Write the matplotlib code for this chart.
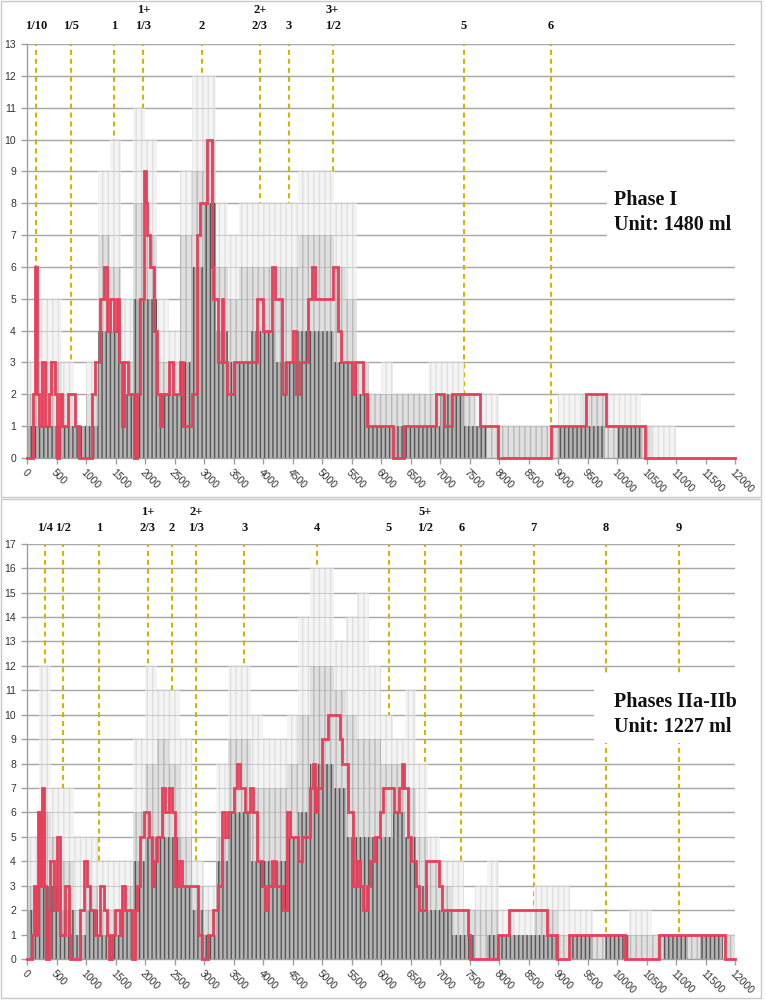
import matplotlib
matplotlib.use('Agg')
import matplotlib.pyplot as plt
import numpy as np
from matplotlib.patches import Rectangle

# ---------------- data ----------------
x_ticks = list(range(0, 12001, 500))
bin_edges = list(range(0, 12001, 200))

# Phase I
top_vline_pos = [148, 740, 1480, 1973, 2960, 3947, 4440, 5180, 7400, 8880]
top_vline_lab = ['1/10', '1/5', '1', '1+\n1/3', '2', '2+\n2/3', '3', '3+\n1/2', '5', '6']
top_light = [3, 5, 5, 3, 1, 3, 9, 10, 5, 11, 10, 5, 4, 9, 12, 12, 8, 7, 8, 8,
             8, 8, 8, 9, 9, 9, 8, 8, 3, 2, 3, 2, 2, 2, 3, 3, 3, 2, 2, 2,
             1, 1, 1, 1, 1, 2, 2, 2, 2, 2, 2, 2, 1, 1, 1, 0, 0, 0, 0, 0]
top_mid = [2, 3, 3, 2, 1, 2, 7, 6, 3, 8, 7, 3, 3, 7, 9, 10, 6, 5, 6, 6,
           6, 6, 6, 7, 7, 7, 6, 5, 3, 2, 2, 2, 2, 2, 2, 2, 2, 2, 1, 1,
           1, 1, 1, 1, 1, 1, 1, 2, 2, 1, 1, 1, 1, 0, 0, 0, 0, 0, 0, 0]
top_dark = [1, 1, 1, 1, 1, 1, 4, 4, 2, 5, 5, 2, 2, 3, 6, 8, 4, 3, 3, 4,
            4, 3, 3, 4, 4, 4, 3, 3, 2, 1, 1, 1, 1, 1, 1, 2, 2, 1, 1, 0,
            0, 0, 0, 0, 0, 1, 1, 1, 1, 0, 1, 1, 0, 0, 0, 0, 0, 0, 0, 0]
top_red_x = [0, 110, 130, 170, 200, 260, 310, 370, 400, 470, 510, 540, 560, 600, 700,
             820, 880, 1100, 1160, 1240, 1300, 1355, 1410, 1467, 1523, 1557, 1608,
             1648, 1704, 1806, 1862, 1918, 1975, 2010, 2040, 2090, 2155, 2200, 2250,
             2290, 2400, 2483, 2595, 2652, 2793, 2878, 2930, 3050, 3130, 3160, 3245,
             3300, 3330, 3385, 3500, 3890, 4006, 4150, 4200, 4316, 4390, 4514, 4555,
             4627, 4770, 4825, 4880, 5190, 5275, 5330, 5500, 5560, 5700, 5756, 6197,
             6383, 6930, 7060, 7211, 7673, 7983, 8873, 9482, 9814, 10479]
top_red_y = [0, 2, 6, 2, 1, 3, 1, 2, 3, 2, 0, 1, 2, 1, 2,
             1, 0, 2, 3, 5, 6, 4, 5, 4, 5, 3, 1,
             3, 2, 0, 2, 5, 9, 8, 7, 6, 4, 2, 1,
             2, 3, 2, 3, 1, 2, 7, 8, 10, 6, 5, 3,
             5, 3, 2, 3, 5, 4, 6, 5, 2, 3, 4, 2,
             3, 5, 6, 5, 6, 4, 3, 2, 3, 2, 1, 0,
             1, 2, 1, 2, 1, 0, 1, 2, 1, 0]

# Phases IIa-IIb
bot_vline_pos = [307, 613, 1227, 2045, 2454, 2863, 3681, 4908, 6135, 6749, 7362, 8589, 9816, 11043]
bot_vline_lab = ['1/4', '1/2', '1', '1+\n2/3', '2', '2+\n1/3', '3', '4', '5', '5+\n1/2', '6', '7', '8', '9']
bot_light = [5, 12, 7, 7, 5, 5, 4, 4, 4, 9, 12, 11, 11, 9, 4, 3, 8, 12, 12, 10,
             9, 9, 10, 14, 16, 16, 13, 14, 15, 12, 10, 9, 11, 8, 5, 4, 4, 2, 3, 4,
             2, 2, 2, 3, 3, 3, 2, 2, 1, 1, 1, 2, 2, 1, 1, 1, 1, 1, 1, 1]
bot_mid = [3, 6, 5, 4, 2, 3, 2, 2, 3, 6, 8, 9, 8, 5, 3, 2, 5, 9, 9, 7,
           7, 7, 8, 10, 12, 12, 11, 10, 9, 9, 8, 8, 7, 5, 4, 3, 2, 2, 2, 2,
           1, 1, 1, 2, 2, 1, 1, 1, 1, 1, 1, 1, 1, 1, 1, 1, 1, 1, 1, 1]
bot_dark = [2, 3, 3, 2, 1, 2, 1, 1, 2, 4, 5, 5, 5, 3, 2, 1, 4, 6, 6, 4,
            4, 4, 5, 6, 8, 8, 7, 5, 5, 5, 5, 6, 5, 3, 2, 2, 1, 1, 0, 1,
            1, 1, 1, 1, 1, 0, 1, 1, 0, 1, 1, 0, 0, 0, 1, 1, 0, 1, 1, 0]
bot_red_x = [0, 85, 113, 158, 190, 220, 250, 290, 320, 367, 395, 463, 508, 564, 649,
             705, 733, 903, 960, 1016, 1072, 1157, 1241, 1298, 1354, 1382, 1439, 1495,
             1569, 1608, 1665, 1777, 1834, 1862, 1918, 1975, 2060, 2116, 2155, 2200,
             2285, 2342, 2400, 2455, 2511, 2568, 2624, 2906, 2962, 3075, 3160, 3245,
             3301, 3358, 3414, 3500, 3555, 3611, 3696, 3780, 3837, 3894, 3978, 4035,
             4091, 4148, 4204, 4345, 4401, 4458, 4599, 4655, 4797, 4853, 4881, 4910,
             4994, 5110, 5310, 5333, 5445, 5530, 5586, 5643, 5700, 5756, 5812, 5897,
             5981, 6030, 6225, 6300, 6350, 6385, 6450, 6507, 6590, 6650, 6760, 6986,
             7042, 7476, 7510, 7983, 8169, 8817, 8986, 9183, 10141, 10704, 11831]
bot_red_y = [0, 1, 3, 1, 6, 3, 7, 3, 0, 2, 4, 2, 5, 1, 3,
             1, 0, 2, 4, 3, 2, 1, 3, 2, 1, 0, 1, 2,
             1, 3, 2, 0, 2, 3, 5, 6, 5, 3, 4, 5,
             7, 6, 7, 6, 3, 4, 3, 1, 0, 1, 2, 3,
             6, 5, 6, 7, 8, 7, 6, 7, 6, 4, 3, 2,
             3, 4, 3, 2, 6, 5, 4, 5, 7, 8, 6, 7,
             9, 10, 9, 8, 6, 3, 4, 3, 2, 3, 4, 5,
             6, 7, 6, 7, 8, 7, 5, 4, 3, 2, 4, 3,
             2, 1, 0, 1, 2, 1, 0, 1, 0, 1, 0]

# ---------------- drawing ----------------
W, H = 766, 1000
plt.rcParams['hatch.linewidth'] = 1.0
fig = plt.figure(figsize=(W / 100, H / 100), dpi=100)
fig.patch.set_facecolor('white')

for (x0, y0, x1, y1) in [(1, 1, 761, 497), (1, 499, 761, 998)]:
    fig.patches.append(Rectangle((x0 / W, 1 - y1 / H), (x1 - x0) / W, (y1 - y0) / H,
                                 transform=fig.transFigure, fill=False,
                                 edgecolor='#c9c9c9', lw=1.0))

SERIF = ['Liberation Serif', 'DejaVu Serif']
SANS = ['Liberation Sans', 'DejaVu Sans']
RED = '#e8405a'
YEL = '#d4b500'


def panel(px_top, px_bottom, ymax, light, mid, dark, rx, ry, vpos, vlab,
          lines, box, text_y, lab_off):
    ax = fig.add_axes([27 / W, 1 - px_bottom / H, 708 / W, (px_bottom - px_top) / H])
    ax.set_xlim(0, 12000)
    ax.set_ylim(0, ymax)
    edges = np.array(bin_edges)
    for v in range(1, ymax + 1):
        ax.axhline(v, color='#a8a8a8', lw=1.0, zorder=1)
    for p in vpos:
        ax.axvline(p, color=YEL, lw=1.5, ls=(0, (2.4, 1.9)), zorder=1.5)

    def sf(vals, **kw):
        y = np.append(np.array(vals, float), vals[-1])
        ax.fill_between(edges, 0, y, step='post', lw=0, **kw)
    sf(light, facecolor='#f4f4f4', edgecolor='#e0e0e0', hatch='|||', zorder=2)
    sf(mid, facecolor='#e0e0e0', edgecolor='#b8b8b8', hatch='|||', zorder=2.5)
    for v in range(1, ymax + 1):
        ax.axhline(v, color='#a8a8a8', lw=0.8, alpha=0.5, zorder=2.7)
    sf(dark, facecolor='#b4b4b4', edgecolor='#555555', hatch='||||', zorder=3)
    xs = np.append(np.array(rx, float), 12000)
    ys = np.append(np.array(ry, float), ry[-1])
    ax.step(xs, ys, where='post', color=RED, lw=2.0, zorder=5, clip_on=False,
            solid_joinstyle='miter')
    # legend-like box
    bx0, by0, by1 = box
    ax.add_patch(Rectangle((bx0, by0), 12000 - bx0, by1 - by0, facecolor='white',
                           edgecolor='none', zorder=6))
    for ln, ty in zip(lines, text_y):
        ax.text(9955, ty, ln, family=SERIF, weight='bold', fontsize=14.5,
                va='baseline', ha='left', zorder=7, color='#111111')
    for p, lab in zip(vpos, vlab):
        ax.annotate(lab, xy=(p, ymax), xytext=(0, lab_off), textcoords='offset points',
                    ha='center', va='bottom', family=SERIF, weight='bold',
                    fontsize=9, linespacing=1.45, color='#111111', annotation_clip=False)
    for s in ['top', 'right']:
        ax.spines[s].set_visible(False)
    for s in ['left', 'bottom']:
        ax.spines[s].set_color('#a0a0a0')
        ax.spines[s].set_linewidth(1.0)
        ax.spines[s].set_zorder(4)
    ax.set_yticks(range(0, ymax + 1))
    ax.set_xticks(x_ticks)
    ax.set_xticklabels([str(t) for t in x_ticks])
    ax.tick_params(axis='both', direction='out', length=4, color='#a0a0a0', width=1.0,
                   labelsize=7.5, labelcolor='#333333')
    ax.tick_params(axis='y', pad=4)
    ax.tick_params(axis='x', pad=3)
    for t in ax.get_yticklabels():
        t.set_family(SANS)
    for t in ax.get_xticklabels():
        t.set_family(SANS)
        t.set_rotation(-45)
        t.set_ha('left')
        t.set_va('top')
        t.set_rotation_mode('anchor')
    ax.set_facecolor('none')
    return ax


panel(44, 458, 13, top_light, top_mid, top_dark, top_red_x, top_red_y,
      top_vline_pos, top_vline_lab, ['Phase I', 'Unit: 1480 ml'],
      (9836, 6.55, 9.5), (7.94, 7.16), 8.5)
panel(543.7, 959, 17, bot_light, bot_mid, bot_dark, bot_red_x, bot_red_y,
      bot_vline_pos, bot_vline_lab, ['Phases IIa-IIb', 'Unit: 1227 ml'],
      (9615, 8.85, 11.6), (10.3, 9.29), 7)

fig.savefig('out.png', dpi=100, facecolor='white')
